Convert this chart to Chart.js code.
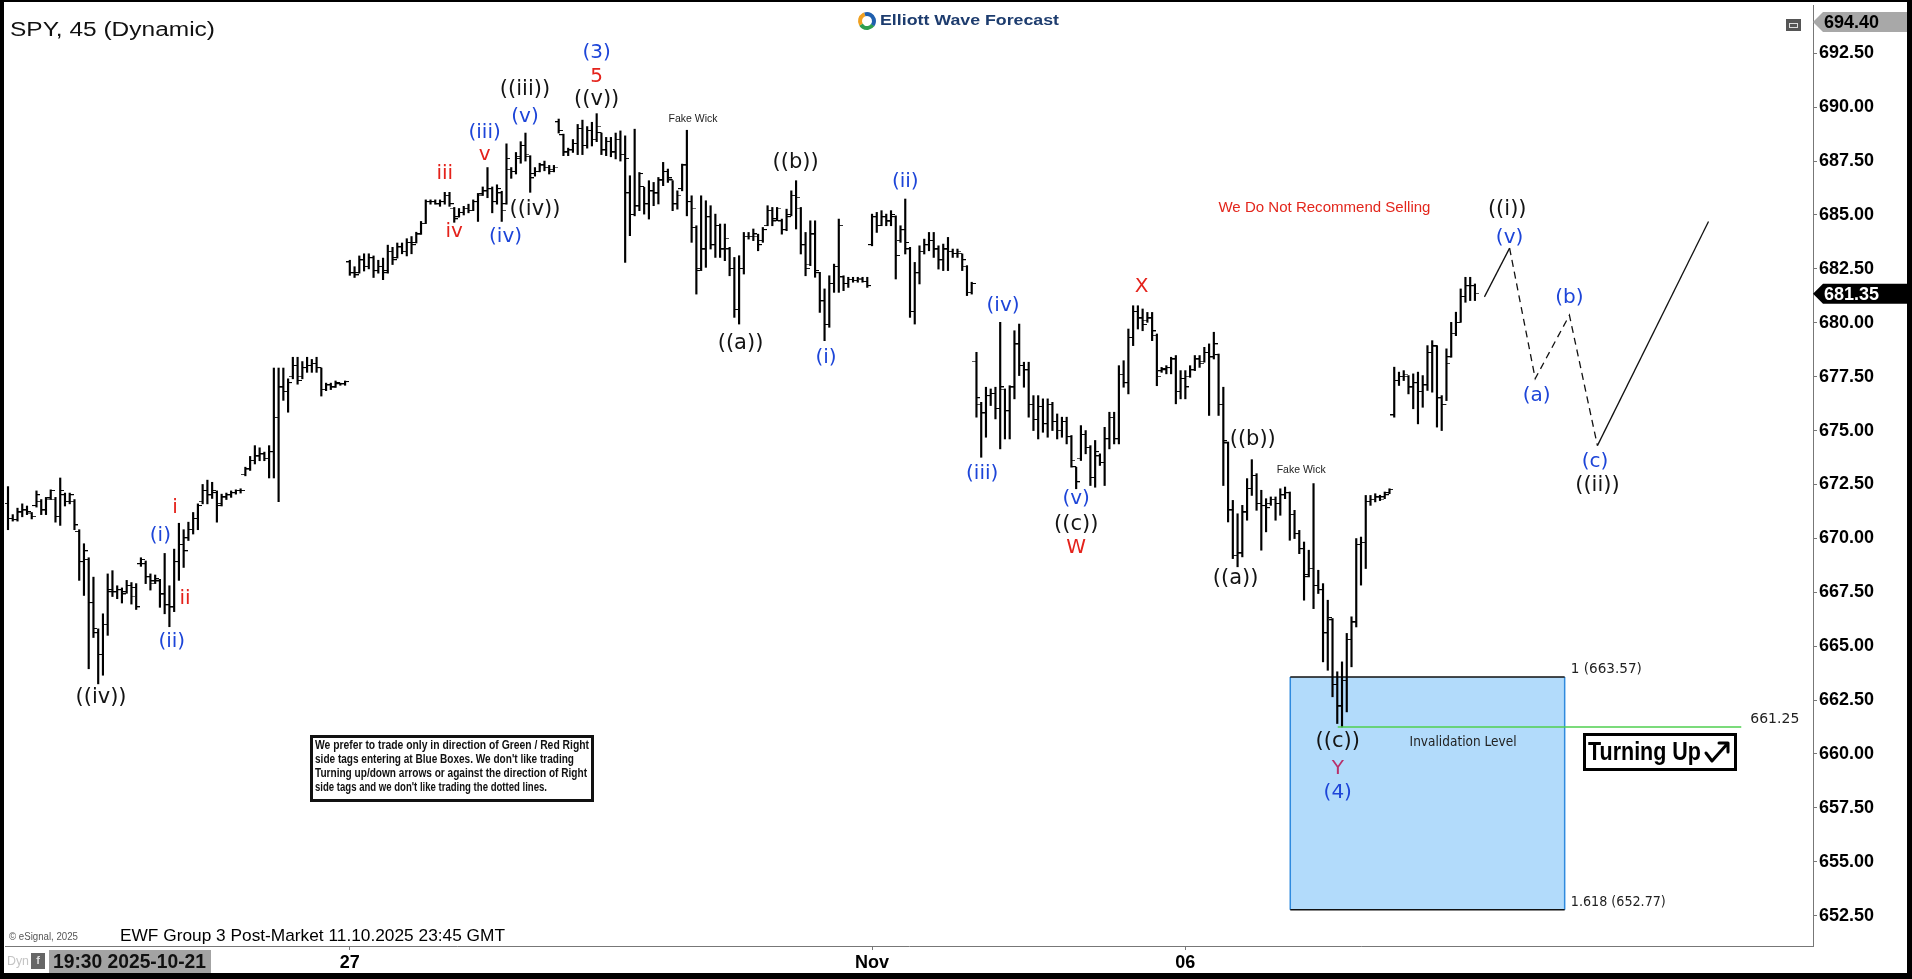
<!DOCTYPE html>
<html lang="en">
<head>
<meta charset="UTF-8">
<title>SPY, 45 (Dynamic)</title>
<script src="https://cdn.jsdelivr.net/npm/chart.js@4.4.1/dist/chart.umd.min.js"></script>
<style>
  html, body { margin: 0; padding: 0; background: #000; overflow: hidden; }
  #wrap { position: relative; width: 1912px; height: 979px; }
</style>
</head>
<body>
<div id="wrap"><canvas id="spy" width="1912" height="979"></canvas></div>
<script>
// 45 min bars, 22 per session. bar 72 = first bar of Oct 27, 182 = Nov 3, 248 = Nov 6
const opens = [
  671.6, 670.9, 670.85, 671.2, 671.3, 671.15, 671.5, 671.7, 671.3, 671.85,
  671.8, 671.0, 672.0, 671.7, 671.7, 670.3, 668.9, 669.0, 667.0, 665.6,
  664.6, 666.0, 667.6, 667.5, 667.6, 667.5, 667.8, 667.7, 668.8, 668.8,
  668.2, 668.0, 668.0, 667.4, 666.9, 666.8, 668.9, 669.7, 670.0, 670.4,
  670.9, 671.7, 672.2, 672.0, 672.1, 671.6, 671.9, 672.0, 672.1, 672.2,
  672.95, 673.2, 673.6, 673.8, 673.9, 673.7, 674.0, 675.6, 677.0, 676.8,
  677.5, 678.0, 677.5, 677.9, 678.0, 678.1, 677.9, 676.9, 677.1, 677.0,
  677.15, 677.15,
  682.8, 682.3, 682.3, 682.9, 682.6, 683.0, 682.4, 682.6,
  682.4, 683.3, 683.0, 683.5, 683.3, 683.7, 683.7, 684.1, 684.6, 685.6,
  685.6, 685.5, 685.6, 685.9, 685.3, 684.9, 685.1, 685.3, 685.2, 685.6,
  685.95, 686.1, 686.2, 685.6, 686.0, 685.5, 687.1, 687.0, 687.6, 688.2,
  687.7, 686.9, 687.0, 687.3, 687.2, 687.1, 689.3, 688.7, 687.9, 688.0,
  688.3, 689.0, 688.2, 688.9, 688.5, 688.8, 688.0, 688.4, 687.9, 688.5,
  687.8, 686.0, 685.0, 685.4, 686.3, 685.5, 686.1, 686.0, 686.6, 687.0,
  686.6, 685.5, 686.2, 687.3, 685.6, 684.4, 682.5, 683.4, 684.9, 683.6,
  684.5, 683.4, 683.4, 682.5, 680.6, 682.5, 684.0, 684.0, 684.0, 683.8,
  684.5, 685.2, 684.8, 684.7, 684.3, 685.0, 685.9, 685.3, 683.6, 682.7,
  684.1, 682.3, 681.0, 679.9, 681.8, 682.6, 682.1, 681.8, 682.0, 681.95,
  682.0, 681.9, 683.6, 684.9, 684.5, 684.9, 684.7, 684.9, 683.8, 684.3,
  683.4, 680.5, 682.3, 683.3, 683.6, 683.8, 683.4, 682.9, 683.4, 683.3,
  683.2, 683.2, 682.6, 681.4, 678.2, 676.2, 675.8, 676.6, 676.7, 676.0,
  676.9, 675.9, 677.0, 679.0, 678.0, 677.8, 676.2, 675.5, 676.1, 675.3,
  676.2, 675.4, 675.0, 675.4, 674.7, 673.3, 673.7, 674.8, 674.2, 672.8,
  673.8, 673.5, 674.6, 675.6, 674.6, 677.6, 677.2, 679.3, 680.5, 680.2,
  680.1, 680.2, 679.4, 677.75, 677.8, 677.9, 678.3, 676.8, 677.4, 677.5,
  677.8, 678.3, 678.2, 678.6, 678.4, 678.5, 676.2, 674.4, 671.3, 669.2,
  669.3, 671.2, 672.3, 672.9, 671.6, 671.5, 671.6, 671.8, 671.6, 672.0,
  672.1, 671.1, 670.2, 669.5, 668.3, 668.6, 667.8, 667.6, 665.6, 666.2,
  663.2, 662.2, 663.4, 665.3, 666.1, 669.7, 669.8, 671.7, 671.8, 671.9,
  671.9, 672.1, 675.7, 677.3, 677.5, 677.5, 677.0, 677.2, 676.8, 677.1,
  678.6, 678.9, 676.5, 676.2, 678.4, 679.5, 680.0, 681.2, 681.7, 681.7
];
const highs = [
  672.4, 671.1, 671.4, 671.6, 671.5, 671.2, 672.2, 671.8, 671.9, 672.25,
  671.9, 672.8, 672.1, 672.1, 671.8, 670.4, 669.75, 669.1, 668.2, 665.8,
  666.5, 668.35, 668.5, 667.8, 667.7, 668.05, 667.95, 667.9, 669.1, 668.95,
  668.35, 668.3, 668.1, 669.3, 667.8, 669.5, 670.7, 670.4, 670.75, 671.2,
  671.6, 672.5, 672.7, 672.6, 672.2, 672.05, 672.1, 672.2, 672.25, 672.3,
  673.3, 673.8, 674.3, 674.2, 674.0, 674.3, 677.9, 677.9, 677.9, 677.4,
  678.4, 678.4, 678.2, 678.4, 678.3, 678.4, 677.9, 677.2, 677.2, 677.3,
  677.2, 677.3,
  682.9, 682.6, 683.1, 683.2, 683.2, 683.1, 682.9, 683.0,
  683.6, 683.5, 683.7, 683.7, 683.9, 684.0, 684.2, 684.7, 685.7, 685.7,
  685.7, 685.7, 686.05, 686.05, 685.35, 685.3, 685.4, 685.5, 685.7, 686.0,
  686.3, 687.2, 686.3, 686.4, 686.1, 688.3, 687.2, 687.9, 688.4, 688.8,
  687.75, 687.2, 687.4, 687.5, 687.3, 687.3, 689.45, 688.75, 688.1, 688.5,
  689.2, 689.4, 689.1, 689.3, 689.7, 688.8, 688.6, 688.6, 688.8, 688.9,
  688.67, 686.82, 688.98, 686.97, 686.28, 686.59, 686.51, 686.74, 687.44, 687.13,
  686.59, 686.12, 687.36, 688.93, 685.89, 684.5, 685.89, 685.66, 685.43, 685.04,
  684.58, 684.58, 683.5, 683.03, 683.11, 684.19, 684.19, 684.35, 684.11, 684.42,
  685.43, 685.35, 685.35, 684.81, 685.27, 686.12, 686.59, 685.35, 684.19, 684.73,
  684.73, 682.34, 681.57, 682.18, 682.72, 684.81, 682.18, 682.11, 682.11, 682.11,
  682.11, 682.11, 685.04, 685.12, 685.2, 685.04, 685.2, 684.96, 684.5, 685.74,
  683.5, 682.8, 683.57, 683.88, 684.19, 684.19, 683.57, 683.65, 683.96, 683.42,
  683.42, 683.19, 682.65, 681.88, 678.63, 676.31, 677.01, 676.93, 677.01, 680.02,
  676.93, 677.08, 679.63, 679.94, 678.17, 678.17, 676.62, 676.62, 676.47, 676.47,
  676.31, 675.77, 675.62, 675.62, 674.77, 673.3, 675.23, 675.0, 674.3, 674.54,
  673.92, 675.15, 675.85, 675.85, 678.01, 678.24, 679.71, 680.79, 680.79, 680.64,
  680.48, 680.48, 679.48, 677.93, 678.01, 678.4, 678.48, 677.78, 677.78, 678.01,
  678.48, 678.48, 678.86, 679.02, 679.56, 678.55, 677.01, 674.47, 671.76, 671.14,
  671.53, 672.77, 673.65, 673.0, 672.23, 671.84, 671.92, 671.92, 672.3, 672.38,
  672.15, 671.3, 670.37, 669.83, 669.45, 672.54, 668.52, 667.9, 667.13, 666.28,
  663.81, 664.27, 665.59, 666.36, 669.99, 670.06, 671.99, 671.99, 672.07, 672.0,
  672.15, 672.3, 677.94, 677.71, 677.78, 677.55, 677.63, 677.71, 677.55, 678.94,
  679.17, 678.94, 676.62, 678.79, 680.02, 680.49, 681.57, 682.11, 682.11, 681.8
];
const lows = [
  670.4, 670.8, 670.8, 671.0, 671.1, 670.9, 671.45, 671.1, 671.1, 671.8,
  670.75, 670.6, 671.5, 671.6, 670.4, 668.05, 667.35, 663.95, 665.4, 663.25,
  663.65, 665.5, 667.3, 667.2, 667.0, 667.45, 666.95, 666.7, 668.7, 667.9,
  667.6, 667.9, 666.8, 666.5, 665.9, 666.6, 668.05, 668.65, 669.9, 670.2,
  670.4, 671.6, 671.6, 671.85, 670.75, 671.5, 671.8, 671.9, 672.05, 672.1,
  672.9, 673.15, 673.45, 673.6, 673.6, 672.8, 672.8, 671.7, 676.4, 675.85,
  677.4, 677.15, 677.4, 677.7, 677.7, 677.7, 676.6, 676.85, 676.9, 677.0,
  677.1, 677.1,
  682.2, 682.1, 682.3, 682.4, 682.5, 682.1, 682.3, 682.0,
  682.3, 682.7, 683.0, 683.2, 683.1, 683.2, 683.7, 684.1, 684.6, 685.5,
  685.5, 685.4, 685.5, 685.4, 684.66, 684.9, 685.0, 685.1, 685.2, 684.7,
  685.9, 685.8, 685.1, 685.5, 684.7, 685.5, 686.7, 686.9, 687.4, 687.5,
  686.05, 686.8, 687.0, 687.05, 686.9, 687.0, 688.8, 687.75, 687.75, 687.9,
  687.8, 687.8, 688.1, 688.2, 688.4, 687.8, 687.75, 687.7, 687.6, 687.5,
  682.8, 684.04, 684.96, 685.2, 685.04, 684.81, 685.43, 685.51, 686.36, 686.51,
  685.2, 685.27, 686.12, 684.96, 683.73, 681.33, 682.42, 682.57, 683.42, 683.03,
  683.03, 682.88, 682.18, 680.25, 679.94, 682.26, 683.88, 683.81, 683.34, 683.73,
  684.5, 684.5, 684.73, 684.11, 684.27, 684.96, 684.35, 683.19, 682.18, 682.65,
  682.11, 680.48, 679.17, 679.79, 681.41, 681.41, 681.49, 681.64, 681.88, 681.88,
  681.88, 681.64, 683.57, 684.19, 684.5, 684.5, 684.5, 682.03, 683.73, 683.19,
  680.25, 679.94, 681.8, 683.19, 683.34, 683.03, 682.49, 682.42, 682.42, 683.03,
  683.03, 682.42, 681.26, 681.33, 675.62, 673.76, 674.69, 676.16, 675.54, 674.15,
  674.61, 674.61, 676.47, 677.55, 677.01, 675.62, 675.0, 674.61, 674.92, 674.69,
  675.0, 674.61, 674.69, 674.38, 673.3, 672.3, 673.61, 673.92, 672.45, 672.37,
  673.38, 672.45, 674.15, 674.38, 674.38, 677.01, 676.7, 678.94, 679.71, 679.63,
  680.02, 679.17, 677.08, 677.7, 677.63, 677.63, 676.24, 676.47, 676.47, 677.47,
  677.78, 677.93, 678.17, 675.7, 678.32, 675.7, 672.45, 670.76, 669.06, 668.68,
  669.14, 670.84, 671.99, 671.3, 669.45, 670.3, 671.53, 670.84, 671.07, 671.84,
  669.91, 669.99, 669.29, 667.13, 668.21, 666.74, 667.44, 664.27, 663.88, 662.65,
  661.41, 661.25, 661.95, 664.04, 665.89, 667.83, 668.6, 671.53, 671.69, 671.75,
  671.84, 672.07, 675.62, 677.09, 677.32, 676.7, 676.01, 675.31, 676.08, 676.86,
  676.78, 675.16, 675.0, 676.39, 678.4, 679.4, 680.02, 680.95, 681.03, 681.03
];
const closes = [
  670.9, 670.85, 671.2, 671.3, 671.2, 671.0, 672.0, 671.3, 671.8, 672.2,
  671.0, 672.2, 671.7, 672.0, 670.6, 668.9, 669.4, 667.0, 665.8, 664.6,
  666.0, 667.5, 667.5, 667.6, 667.4, 667.8, 667.3, 666.8, 669.0, 668.2,
  667.9, 668.1, 667.4, 666.9, 666.8, 668.9, 669.7, 669.4, 670.4, 670.9,
  671.5, 672.2, 672.0, 672.2, 671.5, 671.9, 672.0, 672.1, 672.2, 672.2,
  673.2, 673.6, 673.8, 673.9, 673.7, 674.0, 675.6, 677.0, 676.8, 677.2,
  678.0, 677.3, 677.9, 678.0, 678.1, 677.9, 676.9, 677.1, 677.0, 677.2,
  677.15, 677.25,
  682.3, 682.2, 682.9, 682.6, 683.0, 682.4, 682.6, 682.3,
  683.3, 682.9, 683.5, 683.3, 683.7, 683.6, 684.1, 684.6, 685.6, 685.6,
  685.5, 685.6, 685.9, 685.5, 684.8, 685.1, 685.3, 685.2, 685.6, 685.9,
  686.1, 686.2, 685.6, 686.2, 685.2, 687.6, 687.0, 687.7, 688.2, 687.8,
  686.7, 687.0, 687.3, 687.2, 687.0, 687.2, 688.9, 687.9, 688.0, 688.3,
  689.0, 688.2, 688.9, 688.5, 689.1, 688.0, 688.4, 687.9, 688.5, 687.8,
  687.6, 685.0, 685.4, 686.9, 685.5, 686.1, 686.0, 686.6, 687.0, 686.7,
  685.5, 685.9, 687.3, 685.6, 685.3, 682.4, 683.4, 684.9, 683.6, 684.5,
  683.4, 683.9, 682.5, 680.6, 682.5, 684.0, 684.0, 684.1, 683.6, 684.3,
  685.2, 684.7, 685.3, 684.3, 684.9, 685.9, 685.8, 683.6, 682.5, 684.1,
  682.4, 681.0, 679.9, 681.8, 682.6, 684.5, 681.8, 682.0, 681.95, 682.05,
  681.9, 681.7, 684.9, 684.5, 684.9, 684.7, 685.0, 683.1, 684.3, 683.7,
  680.5, 682.3, 683.3, 683.6, 683.8, 683.4, 682.9, 683.4, 683.3, 683.2,
  683.3, 682.9, 681.4, 681.8, 676.5, 675.8, 676.6, 676.7, 676.0, 677.0,
  675.9, 677.0, 679.0, 678.0, 677.8, 676.2, 675.5, 676.1, 675.3, 676.2,
  675.4, 675.0, 675.4, 674.7, 673.6, 672.6, 674.8, 674.2, 672.8, 674.0,
  673.5, 674.6, 675.6, 674.6, 677.6, 677.2, 679.3, 680.5, 680.2, 679.9,
  680.2, 679.6, 677.5, 677.85, 677.9, 678.3, 676.8, 677.4, 677.0, 677.8,
  678.3, 678.1, 678.6, 678.4, 679.0, 676.2, 674.5, 671.3, 669.2, 669.3,
  671.2, 672.3, 672.9, 671.6, 671.5, 671.4, 671.8, 671.6, 672.0, 672.1,
  671.1, 670.2, 669.5, 668.2, 668.6, 667.8, 667.6, 665.6, 666.3, 663.2,
  662.2, 663.4, 665.3, 666.1, 669.7, 669.8, 671.7, 671.8, 671.9, 671.8,
  672.0, 672.25, 677.3, 677.5, 677.6, 677.0, 677.2, 676.8, 677.1, 678.6,
  678.9, 676.5, 676.2, 678.1, 679.5, 680.0, 681.2, 681.7, 681.7, 681.35
];

const dayTicks = [72, 182, 248];
const dayLabels = ['27', 'Nov', '06'];

// projected path after the last bar: (v) of ((i)), then (a)(b)(c) of ((ii)), then up
const projX = [311, 316.3, 321.7, 328.9, 334.8, 358.2];
const projY = [681.2, 683.46, 677.41, 680.35, 674.3, 684.7];

const invalidation = 661.25;
const boxTop = 663.57;
const boxBottom = 652.77;
const lastPrice = 681.35;
const topPrice = 694.40;

// visible ranges (bar index / price)
const xMin = -0.632, xMax = 380.21;
const yMin = 651.09, yMax = 694.74;

const ink = { k: '#141414', b: '#1d45d8', r: '#e4221b', m: '#b8306a' };

// wave labels: text, bar index, price, colour
const waveLabels = [
  ['((iv))', 19.6, 662.6, 'k'],
  ['(i)', 32.1, 670.1, 'b'],
  ['i', 35.2, 671.4, 'r'],
  ['ii', 37.3, 667.2, 'r'],
  ['(ii)', 34.5, 665.2, 'b'],
  ['iii', 92, 686.9, 'r'],
  ['iv', 94, 684.2, 'r'],
  ['v', 100.4, 687.8, 'r'],
  ['(iii)', 100.4, 688.8, 'b'],
  ['(iv)', 104.8, 684.0, 'b'],
  ['(v)', 108.9, 689.56, 'b'],
  ['((iii))', 108.9, 690.8, 'k'],
  ['((iv))', 111, 685.27, 'k'],
  ['(3)', 124, 692.5, 'b'],
  ['5', 124, 691.4, 'r'],
  ['((v))', 124, 690.35, 'k'],
  ['((a))', 154.3, 679.05, 'k'],
  ['((b))', 165.9, 687.41, 'k'],
  ['(i)', 172.3, 678.37, 'b'],
  ['(ii)', 189, 686.56, 'b'],
  ['(iii)', 205.2, 673.0, 'b'],
  ['(iv)', 209.6, 680.8, 'b'],
  ['(v)', 225, 671.82, 'b'],
  ['((c))', 225, 670.63, 'k'],
  ['W', 225, 669.56, 'r'],
  ['X', 238.8, 681.65, 'r'],
  ['((a))', 258.6, 668.14, 'k'],
  ['((b))', 262.2, 674.58, 'k'],
  ['((c))', 280.1, 660.57, 'k'],
  ['Y', 280.1, 659.33, 'm'],
  ['(4)', 280.1, 658.2, 'b'],
  ['((i))', 315.8, 685.27, 'k'],
  ['(v)', 316.3, 683.96, 'b'],
  ['(a)', 322, 676.62, 'b'],
  ['(b)', 328.9, 681.14, 'b'],
  ['(c)', 334.3, 673.57, 'b'],
  ['((ii))', 334.8, 672.44, 'k']
];

const disclaimer = [
  'We prefer to trade only in direction of Green / Red Right',
  'side tags entering at Blue Boxes. We don\'t like trading',
  'Turning up/down arrows or against the direction of Right',
  'side tags and we don\'t like trading the dotted lines.'
];

const SANS = '"Liberation Sans", Arial, sans-serif';
const WAVE = '"DejaVu Sans", Verdana, sans-serif';

function put(c, s, x, y, font, color, align, width) {
  c.save();
  c.font = font;
  c.fillStyle = color;
  c.textBaseline = 'middle';
  c.textAlign = align || 'center';
  if (width) {
    const k = width / c.measureText(s).width;
    c.translate(x, y);
    c.scale(k, 1);
    c.fillText(s, 0, 0);
  } else {
    c.fillText(s, x, y);
  }
  c.restore();
}

function badge(c, y, text, bg, fg) {
  c.save();
  c.beginPath();
  c.moveTo(1813, y);
  c.lineTo(1823, y - 10);
  c.lineTo(1907, y - 10);
  c.lineTo(1907, y + 10);
  c.lineTo(1823, y + 10);
  c.closePath();
  c.fillStyle = bg;
  c.fill();
  c.restore();
  put(c, text, 1824, y + 1, 'bold 18px ' + SANS, fg, 'left');
}

function tickMark(left) {
  const cv = document.createElement('canvas');
  cv.width = 8;
  cv.height = 2;
  const g = cv.getContext('2d');
  g.fillStyle = '#000';
  g.fillRect(left ? 0 : 4, 0, 4, 1);
  return cv;
}

const decor = {
  id: 'decor',
  beforeDraw(chart) {
    const c = chart.ctx;
    c.save();
    c.fillStyle = '#000';
    c.fillRect(0, 0, chart.width, chart.height);
    c.fillStyle = '#fff';
    c.fillRect(4, 2, 1903, 971);
    c.restore();
  },
  beforeDatasetsDraw(chart) {
    const c = chart.ctx, xs = chart.scales.x, ys = chart.scales.y;
    const x1 = xs.getPixelForValue(270.1), x2 = xs.getPixelForValue(327.9);
    const y1 = ys.getPixelForValue(boxTop), y2 = ys.getPixelForValue(boxBottom);
    c.save();
    c.fillStyle = '#b2dbfb';
    c.fillRect(x1, y1, x2 - x1, y2 - y1);
    c.lineWidth = 1.5;
    c.strokeStyle = '#2f8ade';
    c.beginPath();
    c.moveTo(x1, y1); c.lineTo(x1, y2);
    c.moveTo(x2, y1); c.lineTo(x2, y2);
    c.stroke();
    c.strokeStyle = '#111';
    c.beginPath();
    c.moveTo(x1, y1); c.lineTo(x2, y1);
    c.moveTo(x1, y2); c.lineTo(x2, y2);
    c.stroke();
    c.restore();
  },
  afterDraw(chart) {
    const c = chart.ctx, xs = chart.scales.x, ys = chart.scales.y;
    const X = v => xs.getPixelForValue(v), Y = v => ys.getPixelForValue(v);

    // wave labels
    waveLabels.forEach(([t, i, p, k]) => {
      const size = k === 'k' ? 21 : 20;
      put(c, t, X(i), Y(p), size + 'px ' + WAVE, ink[k], 'center');
    });

    put(c, 'Fake Wick', X(144.3), Y(689.45), '10px ' + SANS, '#222', 'center', 49);
    put(c, 'Fake Wick', X(272.4), Y(673.17), '10px ' + SANS, '#222', 'center', 49);
    put(c, 'We Do Not Recommend Selling', X(277.3), Y(685.32), '15px ' + SANS, '#e3261c', 'center', 212);
    put(c, 'Invalidation Level', X(306.5), Y(660.52), '14px ' + WAVE, '#222', 'center', 107);
    put(c, '1 (663.57)', X(329.2), Y(663.9), '14px ' + WAVE, '#222', 'left', 71);
    put(c, '1.618 (652.77)', X(329.2), Y(653.1), '14px ' + WAVE, '#222', 'left', 95);
    put(c, '661.25', X(367), Y(661.6), '14px ' + WAVE, '#222', 'left', 49);

    // Turning Up tag
    c.save();
    c.fillStyle = '#fff';
    c.fillRect(1584, 734, 152, 36);
    c.lineWidth = 3;
    c.strokeStyle = '#000';
    c.strokeRect(1584.5, 734.5, 151, 35);
    c.restore();
    put(c, 'Turning Up', 1588, 753, 'bold 25px ' + SANS, '#000', 'left', 113);
    c.save();
    c.strokeStyle = '#000';
    c.lineWidth = 3;
    c.lineCap = 'round';
    c.lineJoin = 'round';
    c.beginPath();
    c.moveTo(1706, 753); c.lineTo(1712, 761); c.lineTo(1728, 743);
    c.moveTo(1719, 743); c.lineTo(1728, 743); c.lineTo(1728, 752);
    c.stroke();
    c.restore();

    // disclaimer
    c.save();
    c.fillStyle = '#fff';
    c.fillRect(311, 736, 282, 65);
    c.lineWidth = 3;
    c.strokeStyle = '#111';
    c.strokeRect(311.5, 736.5, 281, 64);
    c.restore();
    const widths = [274, 259, 272, 232];
    disclaimer.forEach((s, k) => put(c, s, 315, 746 + k * 14, 'bold 12px ' + SANS, '#111', 'left', widths[k]));

    // header
    put(c, 'SPY, 45 (Dynamic)', 10, 30, '20px ' + SANS, '#111', 'left', 205);
    c.save();
    const cx = 867, cy = 21;
    [['#2e9e4f', 0.6, 2.6], ['#f0a020', 2.6, 4.4], ['#1f5fae', 4.4, 6.9]].forEach(([col, a0, a1]) => {
      c.beginPath();
      c.strokeStyle = col;
      c.lineWidth = 4;
      c.arc(cx, cy, 7, a0, a1);
      c.stroke();
    });
    c.restore();
    put(c, 'Elliott Wave Forecast', 880, 21, 'bold 15px ' + SANS, '#1d3c6e', 'left', 179);
    c.save();
    c.fillStyle = '#555';
    c.fillRect(1786, 19, 15, 12);
    c.strokeStyle = '#ddd';
    c.lineWidth = 1;
    c.strokeRect(1789.5, 23.5, 8, 4);
    c.restore();

    // price badges
    badge(c, Math.max(Y(topPrice), 22), topPrice.toFixed(2), '#a8a8a8', '#000');
    badge(c, Y(lastPrice), lastPrice.toFixed(2), '#000', '#fff');

    // footer
    put(c, '\u00a9 eSignal, 2025', 9, 937, '10px ' + SANS, '#555', 'left', 69);
    put(c, 'EWF Group 3 Post-Market 11.10.2025 23:45 GMT', 120, 936, '17px ' + SANS, '#000', 'left', 385);
    put(c, 'Dyn', 7, 962, '12px ' + SANS, '#c4c4c4', 'left', 22);
    c.save();
    c.fillStyle = '#666';
    c.fillRect(31, 953, 14, 16);
    c.fillStyle = '#a3a3a3';
    c.fillRect(49, 950, 162, 23);
    c.restore();
    put(c, 'f', 38, 961, 'bold 11px ' + SANS, '#ddd', 'center');
    put(c, '19:30 2025-10-21', 53, 962, 'bold 21px ' + SANS, '#111', 'left', 153);
  }
};

const idx = highs.map((_, i) => i);
const tickFont = { family: '"Liberation Sans", Arial, sans-serif', size: 18, weight: 'bold' };

new Chart(document.getElementById('spy'), {
  type: 'scatter',
  data: {
    datasets: [
      {
        type: 'bar',
        data: idx.map(i => ({ x: i, y: [lows[i], highs[i]] })),
        backgroundColor: '#000',
        borderWidth: 0,
        barThickness: 1.5,
        grouped: false,
        order: 3
      },
      {
        type: 'scatter',
        data: idx.map(i => ({ x: i, y: opens[i] })),
        pointStyle: tickMark(true),
        pointRadius: 3,
        order: 2
      },
      {
        type: 'scatter',
        data: idx.map(i => ({ x: i, y: closes[i] })),
        pointStyle: tickMark(false),
        pointRadius: 3,
        order: 2
      },
      {
        type: 'line',
        data: projX.map((x, k) => ({ x: x, y: projY[k] })),
        borderColor: '#111',
        borderWidth: 1.3,
        pointRadius: 0,
        segment: {
          borderDash: s => (s.p0DataIndex >= 1 && s.p0DataIndex <= 3) ? [7, 5] : undefined
        },
        order: 1
      },
      {
        type: 'line',
        data: [{ x: 280.1, y: invalidation }, { x: 365.1, y: invalidation }],
        borderColor: '#4fcf4f',
        borderWidth: 1.5,
        pointRadius: 0,
        order: 1
      }
    ]
  },
  options: {
    responsive: false,
    devicePixelRatio: 1,
    animation: false,
    events: [],
    layout: { padding: { left: 4, top: 4, right: 5, bottom: 6 } },
    plugins: { legend: { display: false }, tooltip: { enabled: false } },
    scales: {
      x: {
        type: 'linear',
        position: 'bottom',
        min: xMin,
        max: xMax,
        offset: false,
        grid: { display: true, offset: false, drawOnChartArea: false, tickLength: 4, color: '#777' },
        border: { display: true, color: '#777', width: 1 },
        ticks: {
          autoSkip: false,
          maxRotation: 0,
          padding: 2,
          color: '#000',
          font: tickFont,
          callback: v => { const k = dayTicks.indexOf(v); return k < 0 ? '' : dayLabels[k]; }
        },
        afterBuildTicks: s => { s.ticks = dayTicks.map(v => ({ value: v })); },
        afterFit: s => { s.height = 27; s.paddingLeft = 0; s.paddingRight = 0; }
      },
      y: {
        type: 'linear',
        position: 'right',
        min: yMin,
        max: yMax,
        grid: { display: true, offset: false, drawOnChartArea: false, tickLength: 4, color: '#777' },
        border: { display: true, color: '#777', width: 1 },
        ticks: {
          stepSize: 2.5,
          includeBounds: false,
          autoSkip: false,
          padding: 2,
          color: '#000',
          font: tickFont,
          callback: v => v.toFixed(2)
        },
        afterFit: s => { s.width = 94; s.paddingTop = 0; s.paddingBottom = 0; }
      }
    }
  },
  plugins: [decor]
});
</script>
</body>
</html>
